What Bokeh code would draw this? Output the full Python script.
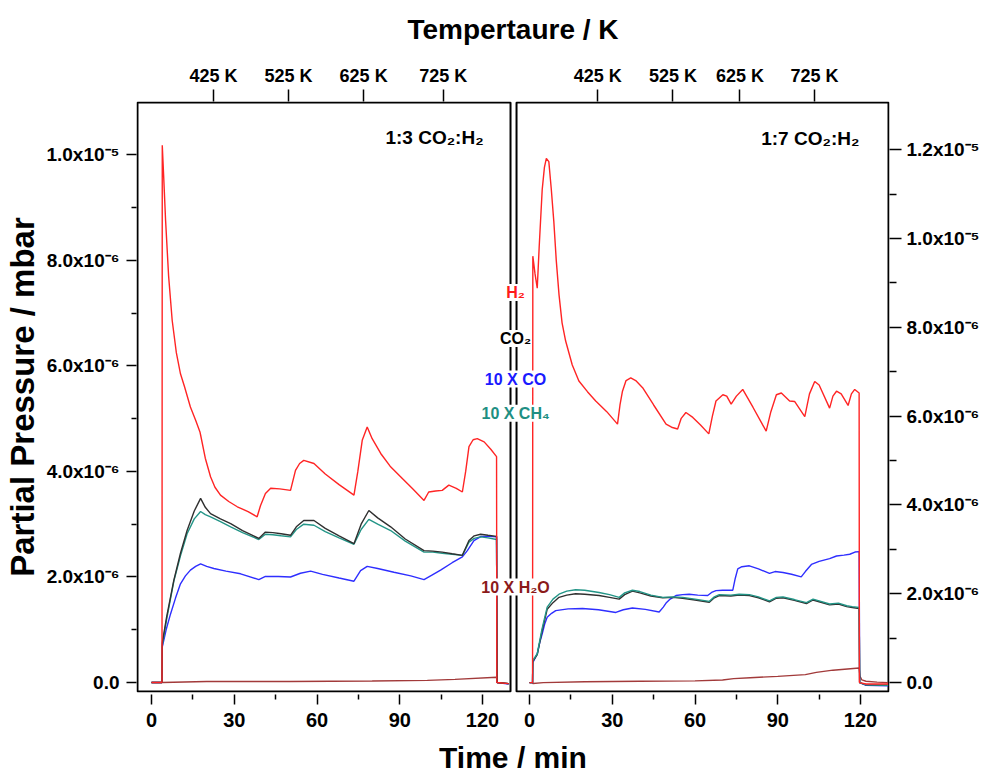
from bokeh.plotting import figure
from bokeh.models import Range1d, LinearAxis, FixedTicker, Label, ColumnDataSource
from bokeh.embed import file_html
from bokeh.resources import INLINE

# ---------------- data (values in units of 1e-6 mbar, time in min) ----------------
# Left panel: 1:3 CO2:H2
h2_l_t = [0, 3.8, 3.9, 4.4, 5.1, 6.2, 7.5, 9.0, 10.5, 12.0, 14.1, 16.0, 17.6, 17.8, 19.5, 21.4, 23.0, 25.0,
          28.0, 31.1, 35.0, 38.3, 39.5, 41.3, 43.2, 46.5, 50.4, 52.2, 53.7, 55.2, 58.9, 63.0, 68.0, 73.4,
          74.8, 76.4, 78.2, 80.0, 83.1, 86.5, 90.3, 94.5, 98.8, 100.5, 103.0, 105.4, 107.8, 110.5, 112.7,
          113.9, 115.1, 116.6, 118.1, 120.6, 123.0, 125.1, 125.2, 129.5]
h2_l_v = [0, 0, 10.18, 9.6, 8.76, 7.7, 6.86, 6.25, 5.85, 5.6, 5.22, 4.97, 4.74, 4.69, 4.25, 3.9, 3.7, 3.55,
          3.43, 3.33, 3.24, 3.14, 3.35, 3.58, 3.68, 3.67, 3.64, 4.02, 4.15, 4.21, 4.15, 3.95, 3.75, 3.55,
          4.0, 4.59, 4.84, 4.62, 4.34, 4.1, 3.9, 3.68, 3.45, 3.61, 3.63, 3.64, 3.74, 3.68, 3.61,
          4.0, 4.47, 4.6, 4.62, 4.56, 4.42, 4.28, 0.0, -0.02]

co2_l_t = [0, 3.8, 3.9, 5.5, 8.1, 10.5, 12.9, 15.5, 17.8, 19.5, 21.4, 25.0, 28.7, 33.0, 38.9, 41.3, 44.0,
           47.0, 50.4, 52.5, 55.2, 58.9, 63.0, 68.0, 73.4, 76.0, 78.8, 82.0, 86.7, 92.0, 98.8, 102.0,
           105.4, 109.0, 112.7, 115.1, 117.0, 119.3, 122.0, 125.1, 125.3, 129.5]
co2_l_v = [0, 0, 0.75, 1.25, 1.94, 2.45, 2.88, 3.25, 3.49, 3.32, 3.2, 3.1, 3.01, 2.88, 2.73, 2.85, 2.84,
           2.82, 2.79, 2.95, 3.07, 3.07, 2.92, 2.78, 2.63, 3.0, 3.26, 3.12, 2.95, 2.72, 2.5, 2.49,
           2.47, 2.44, 2.41, 2.69, 2.78, 2.81, 2.79, 2.77, 0.0, -0.02]

ch4_l_t = co2_l_t
ch4_l_v = [0, 0, 0.7, 1.2, 1.92, 2.4, 2.82, 3.1, 3.24, 3.18, 3.14, 3.05, 2.95, 2.84, 2.71, 2.81, 2.8,
           2.78, 2.76, 2.9, 3.0, 2.98, 2.86, 2.74, 2.62, 2.9, 3.09, 3.0, 2.88, 2.68, 2.47, 2.47,
           2.45, 2.43, 2.41, 2.66, 2.73, 2.76, 2.74, 2.71, 0.0, -0.02]

co_l_t = [0, 3.8, 3.9, 5.3, 6.9, 8.7, 10.5, 12.3, 14.1, 16.0, 17.8, 20.0, 22.6, 27.0, 32.3, 38.9, 41.3,
          46.0, 50.4, 54.0, 57.7, 62.0, 68.0, 73.4, 75.8, 78.2, 82.0, 87.9, 94.0, 98.8, 101.5, 104.8,
          109.0, 112.7, 114.5, 116.9, 119.5, 122.0, 125.1, 125.3, 129.5]
co_l_v = [0, 0, 0.67, 1.0, 1.3, 1.6, 1.87, 2.02, 2.13, 2.2, 2.25, 2.2, 2.16, 2.11, 2.06, 1.95, 2.01,
          2.01, 2.0, 2.07, 2.11, 2.05, 1.98, 1.92, 2.12, 2.2, 2.16, 2.09, 2.02, 1.95, 2.03, 2.13,
          2.27, 2.38, 2.5, 2.69, 2.77, 2.77, 2.76, 0.0, -0.03]

h2o_l_t = [0, 3.8, 3.9, 20.0, 50.0, 80.0, 100.0, 110.0, 125.1, 125.4, 129.5]
h2o_l_v = [0, 0, 0.0, 0.02, 0.02, 0.03, 0.04, 0.06, 0.1, 0.0, -0.02]

# Right panel: 1:7 CO2:H2
h2_r_t = [0, 1.1, 1.2, 2.0, 2.8, 3.5, 4.6, 5.4, 6.1, 7.0, 7.9, 8.8, 9.7, 10.7, 11.8, 13.1, 15.5, 17.9,
          21.0, 24.0, 28.0, 31.9, 32.8, 33.7, 35.0, 36.7, 38.5, 41.0, 45.0, 49.5, 51.5, 53.7, 55.0,
          56.7, 59.2, 62.0, 65.0, 66.3, 67.6, 70.1, 71.5, 73.1, 75.0, 77.3, 81.0, 85.8, 87.5, 89.5,
          91.3, 94.3, 96.1, 99.8, 101.5, 103.4, 105.0, 108.8, 110.0, 111.3, 113.0, 115.5, 116.7,
          117.9, 119.5, 119.6, 122.0, 130.0]
h2_r_v = [0, 0, 9.6, 9.2, 8.88, 9.8, 11.1, 11.6, 11.8, 11.73, 11.1, 10.39, 9.5, 8.73, 8.1, 7.69, 7.15, 6.79,
          6.55, 6.34, 6.1, 5.82, 6.25, 6.56, 6.8, 6.86, 6.8, 6.64, 6.25, 5.82, 5.75, 5.71, 5.95,
          6.08, 5.97, 5.8, 5.6, 6.0, 6.34, 6.48, 6.45, 6.27, 6.45, 6.6, 6.2, 5.66, 6.1, 6.48,
          6.52, 6.34, 6.33, 5.99, 6.5, 6.78, 6.7, 6.18, 6.45, 6.56, 6.5, 6.24, 6.5,
          6.6, 6.52, 0.0, -0.03, -0.03]

co_r_t = [0, 1.1, 1.2, 2.8, 3.7, 4.6, 5.5, 6.4, 8.0, 9.5, 14.0, 19.2, 25.0, 31.3, 34.0, 37.3, 42.0, 47.0,
          48.5, 49.5, 51.0, 53.1, 55.5, 57.9, 61.0, 64.6, 66.0, 67.6, 70.0, 73.7, 74.6, 75.5, 77.0, 79.7,
          83.0, 87.0, 89.0, 91.9, 95.0, 98.5, 100.0, 102.2, 105.0, 108.8, 111.3, 114.0, 116.1, 118.0,
          119.5, 119.7, 122.0, 130.0]
co_r_v = [0, 0, 0.45, 0.65, 0.9, 1.1, 1.32, 1.47, 1.56, 1.62, 1.66, 1.67, 1.64, 1.58, 1.64, 1.68, 1.65, 1.59,
          1.7, 1.79, 1.88, 1.96, 1.98, 1.99, 1.97, 1.96, 2.03, 2.07, 2.08, 2.08, 2.35, 2.56, 2.61, 2.63,
          2.56, 2.46, 2.5, 2.48, 2.44, 2.38, 2.5, 2.66, 2.73, 2.79, 2.85, 2.87, 2.89, 2.94,
          2.95, 0.0, -0.06, -0.07]

ch4_r_t = [0, 1.1, 1.2, 2.8, 4.5, 6.4, 8.5, 10.7, 13.5, 16.7, 20.0, 25.2, 29.0, 32.5, 34.5, 37.3, 40.0,
           44.0, 48.3, 52.0, 55.5, 60.0, 65.2, 67.0, 68.8, 73.0, 76.0, 79.7, 83.0, 87.0, 89.5, 91.9, 96.0,
           100.4, 102.8, 105.0, 108.8, 112.0, 115.0, 117.0, 119.5, 119.7, 122.0, 130.0]
ch4_r_v = [0, 0, 0.5, 0.65, 1.2, 1.7, 1.88, 1.99, 2.06, 2.09, 2.08, 2.03, 1.98, 1.92, 2.02, 2.08, 2.05,
           1.97, 1.92, 1.93, 1.92, 1.88, 1.83, 1.93, 1.98, 1.97, 1.99, 1.98, 1.93, 1.84, 1.92, 1.93, 1.87,
           1.8, 1.88, 1.84, 1.77, 1.79, 1.73, 1.71, 1.69, 0.0, -0.05, -0.06]

co2_r_t = ch4_r_t
co2_r_v = [0, 0, 0.48, 0.63, 1.15, 1.65, 1.8, 1.92, 1.97, 2.0, 1.99, 1.96, 1.92, 1.88, 1.98, 2.06, 2.02,
           1.95, 1.91, 1.92, 1.9, 1.86, 1.81, 1.91, 1.96, 1.95, 1.97, 1.96, 1.91, 1.82, 1.9, 1.91, 1.85,
           1.78, 1.86, 1.82, 1.75, 1.77, 1.71, 1.69, 1.67, 0.0, -0.05, -0.06]

h2o_r_t = [0, 1.1, 1.2, 5.0, 20.0, 40.0, 60.0, 70.0, 74.0, 80.0, 90.0, 100.0, 104.0, 110.0, 119.5,
           119.8, 120.5, 122.0, 126.0, 130.0]
h2o_r_v = [0, 0, -0.02, 0.0, 0.02, 0.03, 0.04, 0.06, 0.09, 0.11, 0.14, 0.18, 0.23, 0.28, 0.33,
           0.15, 0.06, 0.03, 0.01, 0.0]

# ticks and labels
x_ticks = [0, 30, 60, 90, 120]
x_minor = [15, 45, 75, 105]
x_labels = ["0", "30", "60", "90", "120"]
temp_ticks_l = [22.5, 49.7, 76.9, 105.8]
temp_ticks_r = [24.7, 52.0, 76.3, 103.3]
temp_labels = ["425 K", "525 K", "625 K", "725 K"]
y_ticks_l = [0, 2, 4, 6, 8, 10]
y_minor_l = [1, 3, 5, 7, 9]
y_labels_l = ["0.0", "2.0x10⁻⁶", "4.0x10⁻⁶", "6.0x10⁻⁶", "8.0x10⁻⁶", "1.0x10⁻⁵"]
y_ticks_r = [0, 2, 4, 6, 8, 10, 12]
y_minor_r = [1, 3, 5, 7, 9, 11]
y_labels_r = ["0.0", "2.0x10⁻⁶", "4.0x10⁻⁶", "6.0x10⁻⁶", "8.0x10⁻⁶", "1.0x10⁻⁵", "1.2x10⁻⁵"]

species = ["H₂", "CO₂", "10 X CO", "10 X CH₄", "10 X H₂O"]
line_colors = ["#FF2424", "#303030", "#2E2EFF", "#239587", "#A23A3A"]
label_colors = ["#FF1A1A", "#000000", "#1A1AFF", "#1F8F83", "#8B1A1A"]

# ---------------- layout constants ----------------
OFF = 137.05            # right panel time offset inside the shared frame
LX = (-5.08, 130.16)    # left panel time span
RX = (-4.71, 130.15)    # right panel time span (own time)
YL = (-0.17, 10.99)     # left panel value span
YR = (-0.20, 13.06)     # right panel value span
FONT = "Liberation Sans"

xpp = (OFF + RX[1] - LX[0]) / 751.0
ypl = (YL[1] - YL[0]) / 590.0
ypr = (YR[1] - YR[0]) / 590.0

p = figure(width=987, height=776, output_backend="svg", toolbar_location=None,
           x_range=Range1d(LX[0] - xpp, OFF + RX[1] + xpp),
           y_range=Range1d(YL[0] - ypl, YL[1] + ypl),
           x_axis_location=None, y_axis_location=None,
           min_border_left=136, min_border_right=98, min_border_top=101, min_border_bottom=83)
p.extra_y_ranges = {"right": Range1d(YR[0] - ypr, YR[1] + ypr)}
p.outline_line_color = None
p.background_fill_color = "white"
p.border_fill_color = "white"
p.grid.visible = False


def style(ax, size="19px"):
    ax.axis_line_color = None
    ax.major_tick_line_color = "black"
    ax.major_tick_line_width = 1.5
    ax.minor_tick_line_color = "black"
    ax.minor_tick_line_width = 1.5
    ax.major_label_text_font = FONT
    ax.major_label_text_font_style = "bold"
    ax.major_label_text_font_size = size
    ax.major_label_text_color = "black"
    ax.axis_label_text_font = FONT
    ax.axis_label_text_font_style = "bold"
    ax.axis_label_text_color = "black"


# left axis
ax_l = LinearAxis(ticker=FixedTicker(ticks=y_ticks_l, minor_ticks=y_minor_l),
                  major_label_overrides=dict(zip(y_ticks_l, y_labels_l)),
                  axis_label="Partial Pressure / mbar")
style(ax_l)
ax_l.major_tick_in = 0
ax_l.major_tick_out = 10
ax_l.minor_tick_in = 0
ax_l.minor_tick_out = 5
ax_l.major_label_standoff = 7
ax_l.axis_label_standoff = 2
ax_l.axis_label_text_font_size = "33px"
p.add_layout(ax_l, "left")

# right axis
ax_r = LinearAxis(y_range_name="right",
                  ticker=FixedTicker(ticks=y_ticks_r, minor_ticks=y_minor_r),
                  major_label_overrides=dict(zip(y_ticks_r, y_labels_r)))
style(ax_r)
ax_r.major_tick_in = 0
ax_r.major_tick_out = 12
ax_r.minor_tick_in = 0
ax_r.minor_tick_out = 7
ax_r.major_label_standoff = 5
p.add_layout(ax_r, "right")

# bottom axis (both panels)
bt = x_ticks + [OFF + t for t in x_ticks]
bm = x_minor + [OFF + t for t in x_minor]
bl = x_labels + x_labels
ax_b = LinearAxis(ticker=FixedTicker(ticks=bt, minor_ticks=bm),
                  major_label_overrides=dict(zip(bt, bl)),
                  axis_label="Time / min")
style(ax_b, "20px")
ax_b.major_tick_in = -2
ax_b.major_tick_out = 12
ax_b.minor_tick_in = -2
ax_b.minor_tick_out = 7
ax_b.major_label_standoff = 8
ax_b.axis_label_standoff = 11
ax_b.axis_label_text_font_size = "30px"
p.add_layout(ax_b, "below")

# top axis (temperature)
tt = temp_ticks_l + [OFF + t for t in temp_ticks_r]
tl = temp_labels + temp_labels
ax_t = LinearAxis(ticker=FixedTicker(ticks=tt, minor_ticks=[]),
                  major_label_overrides=dict(zip(tt, tl)),
                  axis_label="Tempertaure / K")
style(ax_t, "18px")
ax_t.major_tick_in = 0
ax_t.major_tick_out = 12
ax_t.major_label_standoff = 4
ax_t.axis_label_standoff = 18
ax_t.axis_label_text_font_size = "28px"
p.add_layout(ax_t, "above")

# panel frames
p.quad(left=[LX[0], OFF + RX[0]], right=[LX[1], OFF + RX[1]],
       bottom=[YL[0], YL[0]], top=[YL[1], YL[1]],
       fill_color=None, line_color="black", line_width=2)

# curves
left_series = [(h2o_l_t, h2o_l_v, 4), (co_l_t, co_l_v, 2), (ch4_l_t, ch4_l_v, 3),
               (co2_l_t, co2_l_v, 1), (h2_l_t, h2_l_v, 0)]
right_series = [(h2o_r_t, h2o_r_v, 4), (co_r_t, co_r_v, 2), (co2_r_t, co2_r_v, 1),
                (ch4_r_t, ch4_r_v, 3), (h2_r_t, h2_r_v, 0)]
for t, v, k in left_series:
    src = ColumnDataSource(dict(x=t, y=v))
    p.line("x", "y", source=src, line_color=line_colors[k], line_width=1.4)
for t, v, k in right_series:
    src = ColumnDataSource(dict(x=[OFF + a for a in t], y=v))
    p.line("x", "y", source=src, line_color=line_colors[k], line_width=1.4, y_range_name="right")

# panel titles
p.add_layout(Label(x=102.6, y=10.33, text="1:3 CO₂:H₂", text_font=FONT, text_font_style="bold",
                   text_font_size="19px", text_color="black",
                   text_align="center", text_baseline="middle"))
p.add_layout(Label(x=OFF + 101.8, y=10.31, text="1:7 CO₂:H₂", text_font=FONT, text_font_style="bold",
                   text_font_size="19px", text_color="black",
                   text_align="center", text_baseline="middle"))

# species labels between panels
leg_x = 131.98
leg_y = [7.39, 6.52, 5.75, 5.10, 1.81]
for name, yy, col in zip(species, leg_y, label_colors):
    p.add_layout(Label(x=leg_x, y=yy, text=name, text_font=FONT, text_font_style="bold",
                       text_font_size="16px", text_color=col, text_align="center",
                       text_baseline="middle", background_fill_color="white"))

open("out.html", "w").write(file_html(p, INLINE))
